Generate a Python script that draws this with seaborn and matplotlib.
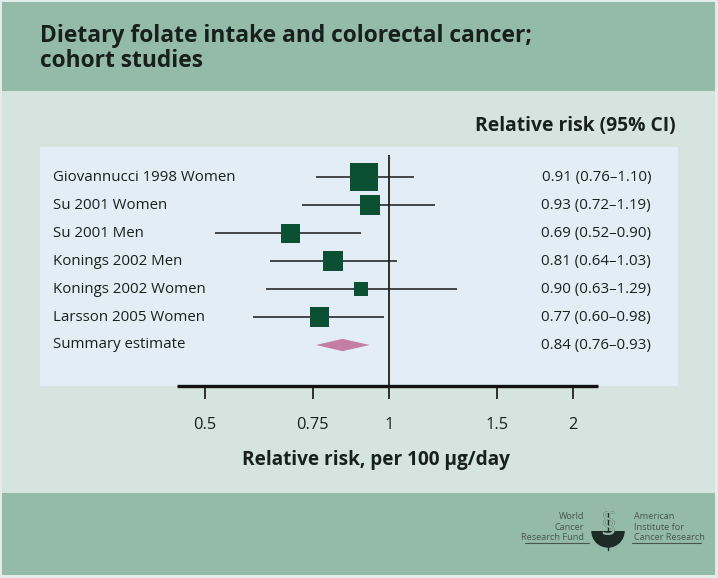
import numpy as np
import pandas as pd
import matplotlib
matplotlib.use("Agg")
import matplotlib.pyplot as plt
from matplotlib.patches import Rectangle, Wedge
import seaborn as sns

# ---- data ----
studies = ["Giovannucci 1998 Women", "Su 2001 Women", "Su 2001 Men",
           "Konings 2002 Men", "Konings 2002 Women", "Larsson 2005 Women"]
rr = [0.91, 0.93, 0.69, 0.81, 0.90, 0.77]
lo = [0.76, 0.72, 0.52, 0.64, 0.63, 0.60]
hi = [1.10, 1.19, 0.90, 1.03, 1.29, 0.98]
weights = [30.0, 15.6, 13.7, 16.7, 8.4, 15.6]   # relative study weight (square area)
summary_label = "Summary estimate"
summary_rr, summary_lo, summary_hi = 0.84, 0.76, 0.93
tick_values = [0.5, 0.75, 1, 1.5, 2]
tick_labels = ["0.5", "0.75", "1", "1.5", "2"]
title_lines = ["Dietary folate intake and colorectal cancer;", "cohort studies"]
xlabel = "Relative risk, per 100 µg/day"
col_header = "Relative risk (95% CI)"
logo_left = "World\nCancer\nResearch Fund"
logo_right = "American\nInstitute for\nCancer Research"

# ---- style ----
sns.set_theme(style="white")
plt.rcParams["font.family"] = ["Open Sans", "DejaVu Sans"]

W, H = 718, 578
fig = plt.figure(figsize=(W / 100, H / 100), dpi=100)
fig.patch.set_facecolor("#e4ece9")

def fx(px):
    return px / W

def fy(py):
    return 1 - py / H

band = "#94bbaa"
body = "#d5e4de"
fig.add_artist(Rectangle((fx(2), fy(91)), fx(713), 89 / H, transform=fig.transFigure,
                         facecolor=band, edgecolor="none", zorder=0))
fig.add_artist(Rectangle((fx(2), fy(493)), fx(713), 402 / H, transform=fig.transFigure,
                         facecolor=body, edgecolor="none", zorder=0))
fig.add_artist(Rectangle((fx(2), fy(575)), fx(713), 82 / H, transform=fig.transFigure,
                         facecolor=band, edgecolor="none", zorder=0))

# title
dark = "#18201d"
fig.text(fx(39.5), fy(41.7), title_lines[0], fontsize=16.4, fontweight="bold",
         color=dark, va="baseline", ha="left")
fig.text(fx(39.5), fy(66.7), title_lines[1], fontsize=16.4, fontweight="bold",
         color=dark, va="baseline", ha="left")

# column header
fig.text(fx(676), fy(131), col_header, fontsize=13.9, fontweight="bold",
         color=dark, va="baseline", ha="right")

# ---- main axes (light blue panel) ----
ax = fig.add_axes([fx(40), fy(386), fx(638), (386 - 147) / H])
ax.set_facecolor("#e2edf6")
ax.set_xscale("log")
scale = 184.3 / np.log(2)
ax.set_xlim(np.exp((40 - 389) / scale), np.exp((678 - 389) / scale))
row_h = 27.95
ax.set_ylim((386 - 177.3) / row_h, (147 - 177.3) / row_h)
for s in ax.spines.values():
    s.set_visible(False)

n = len(studies)
pos = np.arange(n)
df = pd.DataFrame({"study": studies, "rr": rr, "lo": lo, "hi": hi,
                   "weight": weights, "pos": pos})

# reference line at 1
ax.vlines(1, (155 - 177.3) / row_h, (386 - 177.3) / row_h, color="#111111",
          linewidth=1.2, zorder=2)

# CI lines
ax.hlines(df["pos"], df["lo"], df["hi"], color="#1a1a1a", linewidth=1.1, zorder=3)

# squares
max_area = (27.7 * 0.72) ** 2
sns.scatterplot(data=df, x="rr", y="pos", size="weight", sizes=(0, max_area),
                size_norm=(0, 30.0), marker="s", color="#0c5033", edgecolor="none",
                linewidth=0, legend=False, ax=ax, zorder=4)

# summary diamond
sy = n
dh = 0.22
ax.fill([summary_lo, summary_rr, summary_hi, summary_rr],
        [sy, sy - dh, sy, sy + dh], color="#c47ea6", edgecolor="none", zorder=4)

# labels
label_x = np.exp((53 - 389) / scale)
val_x = np.exp((651 - 389) / scale)
all_labels = studies + [summary_label]
vals = [f"{r:.2f} ({l:.2f}–{h:.2f})" for r, l, h in zip(rr, lo, hi)]
vals.append(f"{summary_rr:.2f} ({summary_lo:.2f}–{summary_hi:.2f})")
for i, (lab, v) in enumerate(zip(all_labels, vals)):
    ax.text(label_x, i, lab, fontsize=10.85, color=dark, va="center", ha="left")
    ax.text(val_x, i, v, fontsize=10.85, color=dark, va="center", ha="right")

# axis line and ticks
ybot = (386 - 177.3) / row_h
ax.plot([np.exp((176.7 - 389) / scale), np.exp((598 - 389) / scale)], [ybot, ybot],
        color="#111111", linewidth=2.4, clip_on=False, zorder=5, solid_capstyle="butt")
ax.set_xticks(tick_values)
ax.set_xticklabels(tick_labels)
ax.xaxis.set_minor_locator(matplotlib.ticker.NullLocator())
ax.tick_params(axis="x", which="major", bottom=True, length=9, width=1.2,
               color="#111111", direction="out", pad=13, labelsize=11.8,
               labelcolor=dark)
ax.set_yticks([])
ax.set_xlabel("")
ax.set_ylabel("")
fig.text(fx(376), fy(465), xlabel, fontsize=13.7, fontweight="bold", color=dark,
         ha="center", va="baseline")

# ---- footer logo ----
logo_c = "#46554f"
fig.text(fx(584), fy(527), logo_left, fontsize=6.6, color=logo_c,
         ha="right", va="center", linespacing=1.2)
fig.text(fx(634), fy(527), logo_right, fontsize=6.6,
         color=logo_c, ha="left", va="center", linespacing=1.2)
fig.add_artist(plt.Line2D([fx(525), fx(589)], [fy(543), fy(543)], color=logo_c,
                          linewidth=0.8, transform=fig.transFigure))
fig.add_artist(plt.Line2D([fx(632), fx(701)], [fy(543), fy(543)], color=logo_c,
                          linewidth=0.8, transform=fig.transFigure))
lax = fig.add_axes([fx(588), fy(552), fx(40), 42 / H])
lax.set_xlim(-1.1, 1.1)
lax.set_ylim(-1.1, 1.2)
lax.set_aspect("equal")
lax.axis("off")
snake = "#1e2a25"
lax.plot([0, 0], [-1.0, 1.05], color=snake, linewidth=1.0, zorder=1)
lax.text(0, 0.28, "§", fontsize=22, color=snake, ha="center", va="center", zorder=2)
wedge = Wedge((0, 0.05), 0.92, 180, 360, facecolor=snake, edgecolor="none", zorder=3)
lax.add_patch(wedge)
t2 = lax.text(0, 0.28, "§", fontsize=22, color=band, ha="center", va="center", zorder=4)
t2.set_clip_path(wedge)

fig.savefig("out.png", dpi=100, facecolor=fig.get_facecolor())
